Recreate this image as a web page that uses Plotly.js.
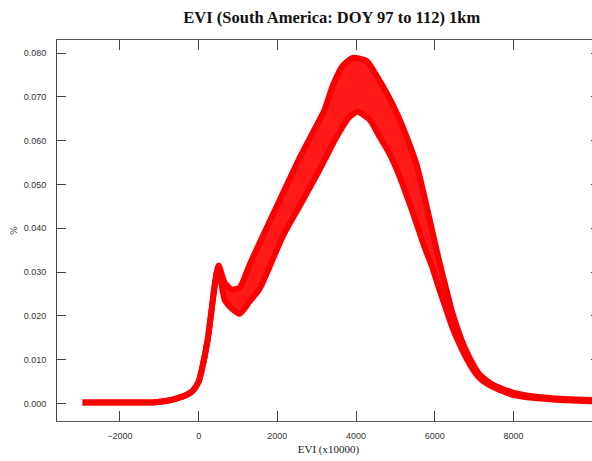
<!DOCTYPE html>
<html>
<head>
<meta charset="utf-8">
<script src="https://cdn.plot.ly/plotly-3.0.1.min.js"></script>
<style>
  html, body { margin: 0; padding: 0; overflow: hidden; background: #fff; }
  #chart { width: 600px; height: 461px; }
</style>
</head>
<body>
<div id="chart"></div>
<script>
// EVI bin (x10000) and percentage – lower envelope of the histogram band
const lowerEVI = [-2950, -2000, -1100, -700, -480, -300, -150, 0, 100, 230, 330, 400, 460, 508,
  660, 840, 1042, 1296, 1550, 2134, 2566, 3075, 3507, 3837, 4040, 4345, 4599, 4853, 5107, 5362, 5540, 5743,
  5921, 6100, 6300, 6454, 6683, 6886, 7140, 7470, 7979, 8843, 9935, 10150];
const lowerPct = [0.0002, 0.0002, 0.0003, 0.0008, 0.0014, 0.0020, 0.0029, 0.0050, 0.0085, 0.0146, 0.0215, 0.0265, 0.0298, 0.0305,
  0.0237, 0.0217, 0.0205, 0.0233, 0.0262, 0.0381, 0.0451, 0.0534, 0.0609, 0.0655, 0.0666, 0.0648, 0.0609, 0.0570, 0.0518, 0.0456, 0.0410, 0.0356,
  0.0315, 0.0265, 0.0212, 0.0172, 0.0125, 0.0090, 0.0058, 0.0038, 0.0020, 0.0010, 0.0005, 0.0005];

// upper envelope of the histogram band
const upperEVI = [-2950, -2000, -1100, -700, -480, -300, -150, 0, 100, 230, 330, 400, 460, 508,
  660, 840, 1042, 1296, 1550, 2058, 2566, 2897, 3202, 3405, 3659, 3913, 4269, 4523, 4777, 5031, 5285, 5540, 5743,
  5921, 6100, 6300, 6454, 6683, 6886, 7140, 7470, 7979, 8843, 9935, 10150];
const upperPct = [0.0002, 0.0002, 0.0003, 0.0008, 0.0014, 0.0020, 0.0029, 0.0050, 0.0085, 0.0146, 0.0215, 0.0265, 0.0300, 0.0315,
  0.0276, 0.0260, 0.0265, 0.0317, 0.0367, 0.0464, 0.0561, 0.0618, 0.0671, 0.0725, 0.0771, 0.0789, 0.0782, 0.0748, 0.0709, 0.0664, 0.0609, 0.0545, 0.0470,
  0.0400, 0.0330, 0.0258, 0.0205, 0.0145, 0.0104, 0.0066, 0.0043, 0.0025, 0.0013, 0.0008, 0.0008];

const xTicks = [-2000, 0, 2000, 4000, 6000, 8000, 10000];
const yTicks = [0, 0.01, 0.02, 0.03, 0.04, 0.05, 0.06, 0.07, 0.08];

const red = 'rgb(250,0,0)';

const traces = [
  {
    x: lowerEVI, y: lowerPct, type: 'scatter', mode: 'lines',
    line: { color: red, width: 6, shape: 'spline', smoothing: 0.6 },
    hoverinfo: 'x+y', showlegend: false
  },
  {
    x: upperEVI, y: upperPct, type: 'scatter', mode: 'lines',
    line: { color: red, width: 6, shape: 'spline', smoothing: 0.6 },
    fill: 'tonexty', fillcolor: 'rgba(255,0,0,0.9)',
    hoverinfo: 'x+y', showlegend: false
  }
];

const tickFont = { family: 'Liberation Sans, Arial, sans-serif', size: 9, color: '#333' };

const layout = {
  width: 600, height: 461,
  margin: { l: 57, r: 0, t: 40, b: 40 },
  paper_bgcolor: '#fff', plot_bgcolor: '#fff',
  title: {
    text: '<b>EVI (South America: DOY 97 to 112) 1km</b>',
    font: { family: 'Liberation Serif, Times New Roman, serif', size: 16.5, color: '#111' },
    x: 0.506, xref: 'paper', xanchor: 'center',
    y: 0.963, yref: 'container', yanchor: 'middle'
  },
  xaxis: {
    range: [-3600, 10199],
    tickvals: xTicks,
    ticktext: xTicks.map(v => v < 0 ? '\u2212' + Math.abs(v) : String(v)),
    ticks: 'inside', ticklen: 10, tickwidth: 1, tickcolor: '#444',
    showline: true, linecolor: '#555', linewidth: 1, mirror: 'ticks',
    showgrid: false, zeroline: false,
    tickfont: tickFont,
    ticklabelstandoff: 6,
    title: { text: 'EVI (x10000)', font: { family: 'Liberation Serif, Times New Roman, serif', size: 11, color: '#222' }, standoff: 5 }
  },
  yaxis: {
    range: [-0.004, 0.083],
    tickvals: yTicks,
    tickformat: '.3f',
    ticks: 'inside', ticklen: 9, tickwidth: 1, tickcolor: '#444',
    showline: true, linecolor: '#444', linewidth: 1, mirror: 'ticks',
    showgrid: false, zeroline: false,
    tickfont: tickFont,
    ticklabelstandoff: 8,
    title: { text: '%', font: { family: 'Liberation Serif, Times New Roman, serif', size: 10, color: '#333' }, standoff: 4 }
  }
};

Plotly.newPlot('chart', traces, layout, { displayModeBar: false, staticPlot: true });
</script>
</body>
</html>
